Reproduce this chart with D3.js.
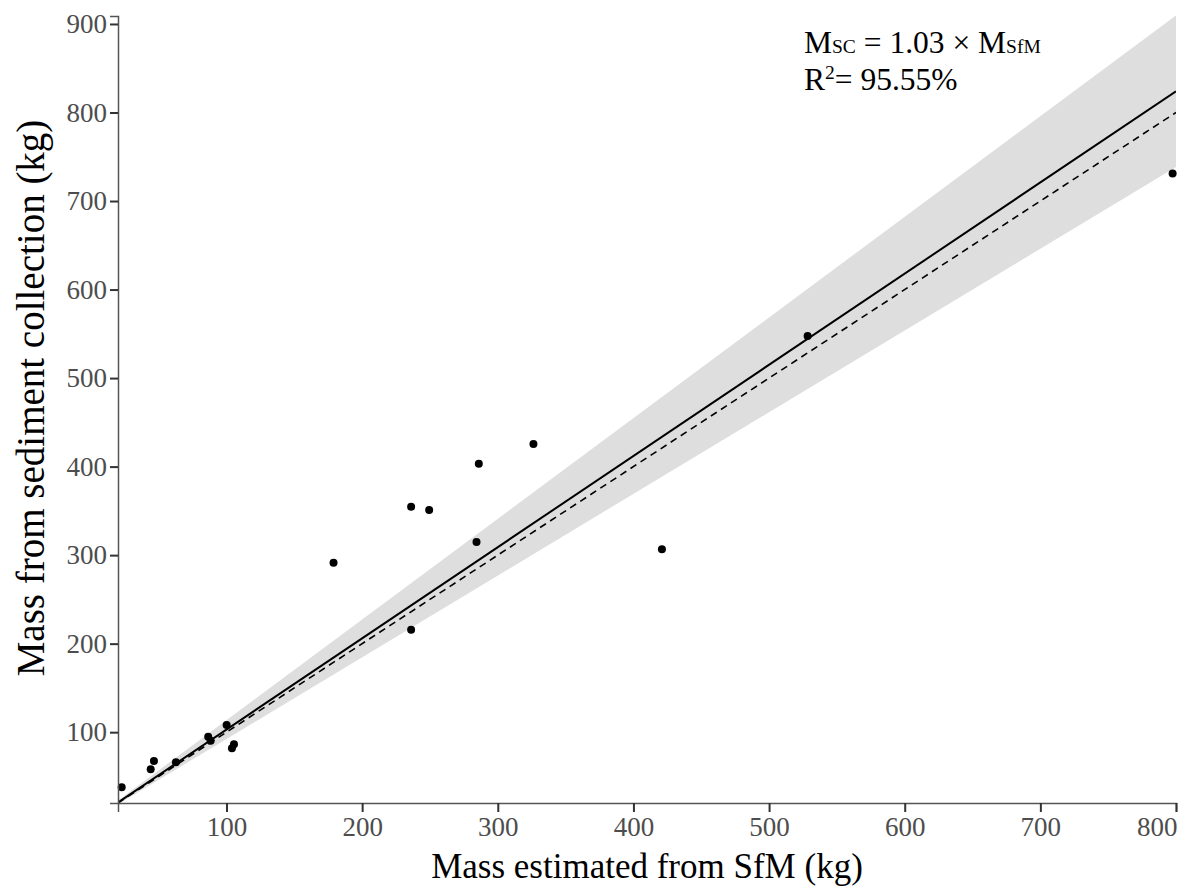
<!DOCTYPE html>
<html>
<head>
<meta charset="utf-8">
<script src="https://cdn.jsdelivr.net/npm/d3@7"></script>
<style>
  body { margin: 0; background: #fff; }
  svg text { font-family: "Liberation Serif", "Times New Roman", serif; }
</style>
</head>
<body>
<div id="chart"></div>
<script>
// data (kg)
const sfmMass = [22.7, 44.1, 46.5, 62.7, 86.5, 88.3, 100.1, 105.5, 104.0, 178.9,
                 236.1, 249.4, 286.0, 326.3, 284.3, 236.1, 421.0, 528.4, 797.5];
const scMass  = [37.7, 58.1, 67.4, 66.0, 94.9, 90.4, 108.1, 86.3, 81.8, 291.4,
                 354.6, 350.9, 403.2, 425.5, 314.8, 215.7, 306.5, 547.4, 731.2];
const xTicks = [100, 200, 300, 400, 500, 600, 700, 800];
const yTicks = [100, 200, 300, 400, 500, 600, 700, 800, 900];
const fitSlope = 1.03;          // fit through origin
const bandSlopes = [0.923, 1.137]; // lower / upper confidence edge
const lineX = [20, 800];

const width = 1184, height = 889;
const marginLeft = 118, marginRight = 8, marginTop = 16, marginBottom = 86;

const x = d3.scaleLinear([20, 800], [marginLeft, width - marginRight]);
const y = d3.scaleLinear([20, 909], [height - marginBottom, marginTop]);

const svg = d3.select("#chart").append("svg")
    .attr("width", width)
    .attr("height", height)
    .attr("viewBox", [0, 0, width, height]);

svg.append("clipPath").attr("id", "plot-clip")
  .append("rect")
    .attr("x", marginLeft).attr("y", marginTop)
    .attr("width", width - marginLeft - marginRight)
    .attr("height", height - marginTop - marginBottom);

const plot = svg.append("g").attr("clip-path", "url(#plot-clip)");

// confidence band
const area = d3.area()
    .x(d => x(d))
    .y0(d => y(d * bandSlopes[0]))
    .y1(d => y(d * bandSlopes[1]));
plot.append("path")
    .attr("fill", "#dedede")
    .attr("d", area(lineX));

// 1:1 line
const oneToOne = d3.line().x(d => x(d)).y(d => y(d));
plot.append("path")
    .attr("fill", "none")
    .attr("stroke", "#000")
    .attr("stroke-width", 1.6)
    .attr("stroke-dasharray", "7,5")
    .attr("d", oneToOne(lineX));

// fitted line
const fitLine = d3.line().x(d => x(d)).y(d => y(d * fitSlope));
plot.append("path")
    .attr("fill", "none")
    .attr("stroke", "#000")
    .attr("stroke-width", 2)
    .attr("d", fitLine(lineX));

// points
svg.append("g")
  .selectAll("circle")
  .data(d3.range(sfmMass.length))
  .join("circle")
    .attr("cx", i => x(sfmMass[i]))
    .attr("cy", i => y(scMass[i]))
    .attr("r", 4)
    .attr("fill", "#000");

// axes
const xAxis = d3.axisBottom(x).tickValues(xTicks).tickSizeOuter(0).tickSize(9).tickPadding(5);
const yAxis = d3.axisLeft(y).tickValues(yTicks).tickSizeOuter(0).tickSize(8).tickPadding(3);

svg.append("g")
    .attr("transform", `translate(0,${height - marginBottom})`)
    .call(xAxis)
    .call(g => g.select(".domain").attr("stroke", "#555").attr("stroke-width", 1.5))
    .call(g => g.selectAll(".tick line").attr("stroke", "#333").attr("stroke-width", 2))
    .call(g => g.selectAll(".tick text")
        .attr("fill", "#4d4d4d")
        .attr("font-size", 27))
    // last label sits flush with the axis end
    .call(g => g.selectAll(".tick text").filter(d => d === 800)
        .attr("text-anchor", "end").attr("dx", 1));

svg.append("g")
    .attr("transform", `translate(${marginLeft},0)`)
    .call(yAxis)
    .call(g => g.select(".domain").attr("stroke", "#555").attr("stroke-width", 1.5))
    .call(g => g.selectAll(".tick line").attr("stroke", "#333").attr("stroke-width", 2))
    .call(g => g.selectAll(".tick text")
        .attr("fill", "#4d4d4d")
        .attr("font-size", 27));

// axis titles
svg.append("text")
    .attr("x", 647)
    .attr("y", 878)
    .attr("text-anchor", "middle")
    .attr("font-size", 35)
    .attr("fill", "#000")
    .text("Mass estimated from SfM (kg)");

svg.append("text")
    .attr("transform", `translate(44,398) rotate(-90)`)
    .attr("text-anchor", "middle")
    .attr("font-size", 39)
    .attr("fill", "#000")
    .text("Mass from sediment collection (kg)");

// annotation
const note = svg.append("g").attr("font-size", 31.5).attr("fill", "#000");
const l1 = note.append("text").attr("x", 804).attr("y", 53);
l1.append("tspan").text("M");
l1.append("tspan").attr("font-size", 19.5).text("SC");
l1.append("tspan").text(" = 1.03 × M");
l1.append("tspan").attr("font-size", 19.5).text("SfM");

const l2 = note.append("text").attr("x", 804).attr("y", 90);
l2.append("tspan").text("R");
l2.append("tspan").attr("font-size", 19.5).attr("dy", -11).text("2");
l2.append("tspan").attr("dy", 11).text("= 95.55%");
</script>
</body>
</html>
